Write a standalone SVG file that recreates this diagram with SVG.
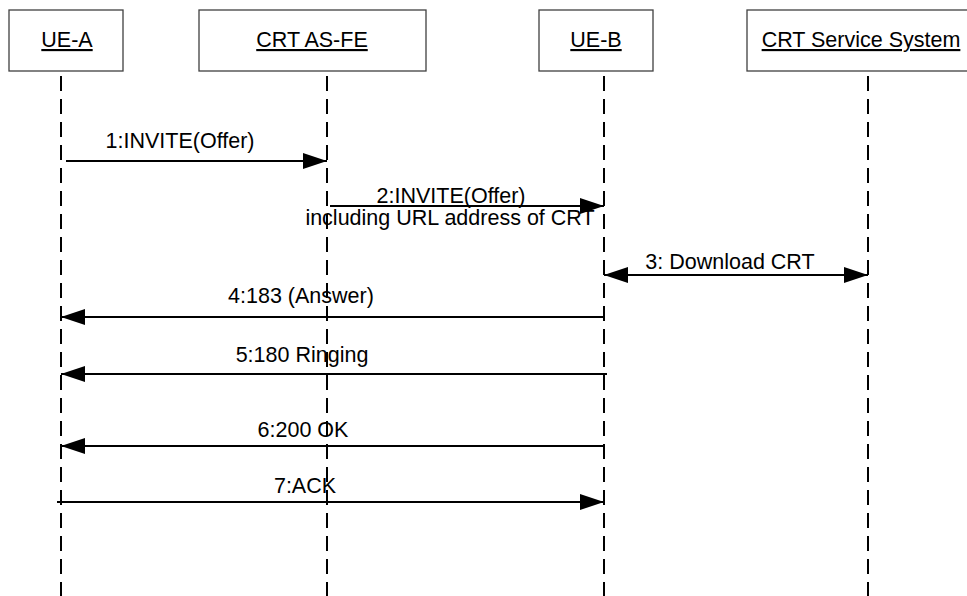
<svg xmlns="http://www.w3.org/2000/svg" width="967" height="596" viewBox="0 0 967 596">
<defs>
<style>
.box{fill:#fff;stroke:#404040;stroke-width:1.3}
.life{stroke:#000;stroke-width:2;stroke-dasharray:15 8;fill:none}
.msg{stroke:#000;stroke-width:2;fill:none}
.t{font-family:"Liberation Sans",Arial,sans-serif;font-size:21.5px;fill:#000;text-anchor:middle}
.u{text-decoration:underline}
</style>
<marker id="ah" viewBox="0 0 24 16" refX="24" refY="8" markerWidth="24" markerHeight="16" markerUnits="userSpaceOnUse" orient="auto-start-reverse">
<path d="M0,0 L24,8 L0,16 z" fill="#000"/>
</marker>
</defs>
<rect width="967" height="596" fill="#fff"/>
<g id="ue-a">
<rect class="box" x="9" y="10" width="114" height="61"/>
<text class="t u" x="67" y="47">UE-A</text>
<line class="life" x1="61" y1="76" x2="61" y2="596"/>
</g>
<g id="crt-as-fe">
<rect class="box" x="199" y="10" width="227" height="61"/>
<text class="t u" x="312" y="47">CRT AS-FE</text>
<line class="life" x1="327" y1="76" x2="327" y2="596"/>
</g>
<g id="ue-b">
<rect class="box" x="539" y="10" width="114" height="61"/>
<text class="t u" x="596" y="47">UE-B</text>
<line class="life" x1="604" y1="76" x2="604" y2="596"/>
</g>
<g id="crt-service-system">
<rect class="box" x="747" y="10" width="230" height="61"/>
<text class="t u" x="861" y="47">CRT Service System</text>
<line class="life" x1="868" y1="76" x2="868" y2="596"/>
</g>
<g id="connectors">
<path class="msg" d="M66,161 H327" marker-end="url(#ah)"/>
<text class="t" x="180" y="148">1:INVITE(Offer)</text>
<path class="msg" d="M330,206 H604" marker-end="url(#ah)"/>
<text class="t" x="451" y="203">2:INVITE(Offer)</text>
<text class="t" x="450" y="225">including URL address of CRT</text>
<path class="msg" d="M604,275 H868" marker-start="url(#ah)" marker-end="url(#ah)"/>
<text class="t" x="730" y="269">3: Download CRT</text>
<path class="msg" d="M604,317 H61" marker-end="url(#ah)"/>
<text class="t" x="301" y="303">4:183 (Answer)</text>
<path class="msg" d="M607,374 H61" marker-end="url(#ah)"/>
<text class="t" x="302" y="362">5:180 Ringing</text>
<path class="msg" d="M604,446 H61" marker-end="url(#ah)"/>
<text class="t" x="303" y="437">6:200 OK</text>
<path class="msg" d="M57,502 H604" marker-end="url(#ah)"/>
<text class="t" x="305" y="493">7:ACK</text>
</g>
</svg>
